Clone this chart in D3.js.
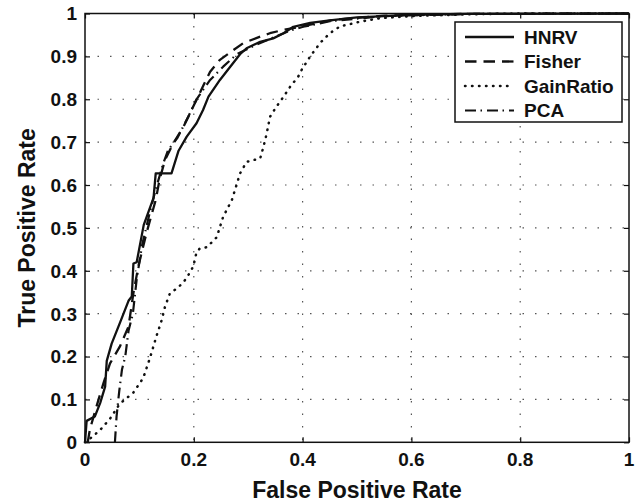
<!DOCTYPE html>
<html>
<head>
<meta charset="utf-8">
<script src="https://cdn.jsdelivr.net/npm/d3@7"></script>
<style>
body { margin: 0; background: #fff; }
svg text { font-family: "Liberation Sans", Arial, Helvetica, sans-serif; font-weight: bold; fill: #111; }
</style>
</head>
<body>
<div id="graph"></div>
<script>
// ROC curves (false positive rate, true positive rate)
var hnrvFpr = [0, 0.003, 0.018, 0.028, 0.037, 0.04, 0.049, 0.064, 0.08, 0.086, 0.089, 0.095, 0.108, 0.126, 0.13, 0.159, 0.172, 0.187, 0.205, 0.217, 0.227, 0.248, 0.267, 0.285, 0.297, 0.322, 0.346, 0.365, 0.383, 0.414, 0.45, 0.5, 0.6, 0.7, 1]
var hnrvTpr = [0, 0.05, 0.06, 0.092, 0.13, 0.19, 0.23, 0.278, 0.33, 0.34, 0.417, 0.42, 0.507, 0.57, 0.627, 0.627, 0.68, 0.713, 0.744, 0.775, 0.806, 0.845, 0.876, 0.905, 0.919, 0.934, 0.942, 0.954, 0.969, 0.978, 0.984, 0.991, 0.997, 0.999, 1]

var fisherFpr = [0.005, 0.009, 0.021, 0.034, 0.046, 0.064, 0.08, 0.089, 0.098, 0.113, 0.13, 0.137, 0.147, 0.162, 0.181, 0.196, 0.218, 0.23, 0.248, 0.273, 0.291, 0.322, 0.34, 0.365, 0.395, 0.456, 0.55, 0.7, 1]
var fisherTpr = [0, 0.03, 0.083, 0.138, 0.184, 0.223, 0.27, 0.348, 0.41, 0.488, 0.565, 0.612, 0.658, 0.697, 0.736, 0.775, 0.833, 0.864, 0.892, 0.915, 0.931, 0.946, 0.954, 0.962, 0.969, 0.985, 0.995, 0.999, 1]

var gainFpr = [0, 0.006, 0.028, 0.046, 0.064, 0.089, 0.107, 0.119, 0.132, 0.141, 0.147, 0.156, 0.169, 0.181, 0.19, 0.199, 0.205, 0.211, 0.224, 0.242, 0.254, 0.27, 0.285, 0.297, 0.322, 0.328, 0.334, 0.34, 0.352, 0.365, 0.377, 0.392, 0.398, 0.414, 0.432, 0.45, 0.469, 0.506, 0.542, 0.6, 0.7, 0.8, 1]
var gainTpr = [0, 0.005, 0.029, 0.055, 0.09, 0.116, 0.15, 0.195, 0.25, 0.285, 0.316, 0.347, 0.359, 0.373, 0.39, 0.41, 0.443, 0.452, 0.455, 0.478, 0.526, 0.565, 0.627, 0.654, 0.662, 0.689, 0.72, 0.759, 0.783, 0.806, 0.829, 0.853, 0.868, 0.9, 0.931, 0.954, 0.97, 0.981, 0.989, 0.994, 0.998, 1, 1]

var pcaFpr = [0.055, 0.058, 0.063, 0.068, 0.074, 0.08, 0.088, 0.095, 0.105, 0.118, 0.13, 0.144, 0.153, 0.17, 0.19, 0.205, 0.23, 0.254, 0.279, 0.316, 0.346, 0.377, 0.401, 0.45, 0.55, 0.7, 1]
var pcaTpr = [0, 0.06, 0.12, 0.17, 0.2, 0.26, 0.3, 0.38, 0.46, 0.53, 0.59, 0.651, 0.682, 0.71, 0.76, 0.8, 0.845, 0.876, 0.905, 0.928, 0.944, 0.96, 0.969, 0.982, 0.994, 0.999, 1]

var seriesNames = ['HNRV', 'Fisher', 'GainRatio', 'PCA']
var xTicks = [0, 0.2, 0.4, 0.6, 0.8, 1]
var xTickLabels = ['0', '0.2', '0.4', '0.6', '0.8', '1']
var yTicks = [0, 0.1, 0.2, 0.3, 0.4, 0.5, 0.6, 0.7, 0.8, 0.9, 1]
var yTickLabels = ['0', '0.1', '0.2', '0.3', '0.4', '0.5', '0.6', '0.7', '0.8', '0.9', '1']

var series = [
	{ name: seriesNames[0], x: hnrvFpr, y: hnrvTpr },
	{ name: seriesNames[1], x: fisherFpr, y: fisherTpr },
	{ name: seriesNames[2], x: gainFpr, y: gainTpr },
	{ name: seriesNames[3], x: pcaFpr, y: pcaTpr }
]

// line styles like matlab '-', '--', ':', '-.'
var dashes = { HNRV: null, Fisher: '11.5,7', GainRatio: '0.5,6.5', PCA: '11,4.5,1.5,5' }
var widths = { HNRV: 2.3, Fisher: 2.3, GainRatio: 2.5, PCA: 2.2 }
var caps = { HNRV: 'butt', Fisher: 'butt', GainRatio: 'round', PCA: 'butt' }

var width = 638, height = 503
var margin = { top: 13.5, right: 9, bottom: 60.7, left: 85 }
var w = width - margin.left - margin.right
var h = height - margin.top - margin.bottom

var svg = d3.select('#graph').append('svg')
	.attr('width', width)
	.attr('height', height)

var g = svg.append('g').attr('transform', 'translate(' + margin.left + ',' + margin.top + ')')

var xScale = d3.scaleLinear().domain([0, 1]).range([0, w])
var yScale = d3.scaleLinear().domain([0, 1]).range([h, 0])

g.append('rect').attr('width', w).attr('height', h).attr('fill', '#fff')

// dotted grid
g.selectAll('.hgrid')
	.data(yTicks.slice(1, -1))
	.enter().append('line')
	.attr('x1', 0).attr('x2', w)
	.attr('y1', function(d) { return yScale(d) })
	.attr('y2', function(d) { return yScale(d) })
	.attr('stroke', '#555')
	.attr('stroke-width', 1.2)
	.attr('stroke-dasharray', '1.5,11')

g.selectAll('.vgrid')
	.data(xTicks.slice(1, -1))
	.enter().append('line')
	.attr('y1', 0).attr('y2', h)
	.attr('x1', function(d) { return xScale(d) })
	.attr('x2', function(d) { return xScale(d) })
	.attr('stroke', '#555')
	.attr('stroke-width', 1.2)
	.attr('stroke-dasharray', '1.5,11')

// axes with inward ticks on all four sides
var xAxisBottom = d3.axisBottom(xScale).tickValues(xTicks).tickSize(-5).tickFormat('')
var xAxisTop = d3.axisTop(xScale).tickValues(xTicks).tickSize(-5).tickFormat('')
var yAxisLeft = d3.axisLeft(yScale).tickValues(yTicks).tickSize(-5).tickFormat('')
var yAxisRight = d3.axisRight(yScale).tickValues(yTicks).tickSize(-5).tickFormat('')

g.append('g').attr('transform', 'translate(0,' + h + ')').call(xAxisBottom)
g.append('g').call(xAxisTop)
g.append('g').call(yAxisLeft)
g.append('g').attr('transform', 'translate(' + w + ',0)').call(yAxisRight)
g.selectAll('.domain').remove()
g.selectAll('.tick line').attr('stroke', '#111').attr('stroke-width', 1.2)

g.append('defs').append('clipPath').attr('id', 'clip')
	.append('rect').attr('x', -2).attr('y', -2).attr('width', w + 4).attr('height', h + 4)

var line = d3.line()
	.x(function(d) { return xScale(d[0]) })
	.y(function(d) { return yScale(d[1]) })

g.append('g').attr('clip-path', 'url(#clip)')
	.selectAll('path')
	.data(series)
	.enter().append('path')
	.attr('d', function(s) { return line(d3.zip(s.x, s.y)) })
	.attr('fill', 'none')
	.attr('stroke', '#111')
	.attr('stroke-width', function(s) { return widths[s.name] })
	.attr('stroke-linecap', function(s) { return caps[s.name] })
	.attr('stroke-linejoin', 'round')
	.attr('stroke-dasharray', function(s) { return dashes[s.name] })

// box
g.append('rect')
	.attr('width', w).attr('height', h)
	.attr('fill', 'none')
	.attr('stroke', '#111')
	.attr('stroke-width', 1.5)

// tick labels
g.selectAll('.xlab')
	.data(xTicks)
	.enter().append('text')
	.attr('x', function(d) { return xScale(d) })
	.attr('y', h + 23.5)
	.attr('text-anchor', 'middle')
	.attr('font-size', 19)
	.text(function(d, i) { return xTickLabels[i] })

g.selectAll('.ylab')
	.data(yTicks)
	.enter().append('text')
	.attr('x', -8)
	.attr('y', function(d) { return yScale(d) })
	.attr('dy', '0.36em')
	.attr('text-anchor', 'end')
	.attr('font-size', 19)
	.text(function(d, i) { return yTickLabels[i] })

// axis titles
svg.append('text')
	.attr('x', margin.left + w / 2)
	.attr('y', 498)
	.attr('text-anchor', 'middle')
	.attr('font-size', 23)
	.text('False Positive Rate')

svg.append('text')
	.attr('transform', 'translate(35,' + (margin.top + h / 2) + ') rotate(-90)')
	.attr('text-anchor', 'middle')
	.attr('font-size', 23)
	.text('True Positive Rate')

// legend
var legend = svg.append('g').attr('transform', 'translate(455,22)')
legend.append('rect')
	.attr('width', 167).attr('height', 100)
	.attr('fill', '#fff')
	.attr('stroke', '#111')
	.attr('stroke-width', 1.5)

var rows = legend.selectAll('.row')
	.data(series)
	.enter().append('g')
	.attr('transform', function(d, i) { return 'translate(0,' + (15 + i * 24.5) + ')' })

rows.append('line')
	.attr('x1', 10).attr('x2', 59)
	.attr('y1', 0).attr('y2', 0)
	.attr('stroke', '#111')
	.attr('stroke-width', function(s) { return widths[s.name] })
	.attr('stroke-linecap', function(s) { return caps[s.name] })
	.attr('stroke-dasharray', function(s) { return dashes[s.name] })

rows.append('text')
	.attr('x', 69)
	.attr('y', 0)
	.attr('dy', '0.36em')
	.attr('font-size', 19)
	.text(function(s) { return s.name })
</script>
</body>
</html>
